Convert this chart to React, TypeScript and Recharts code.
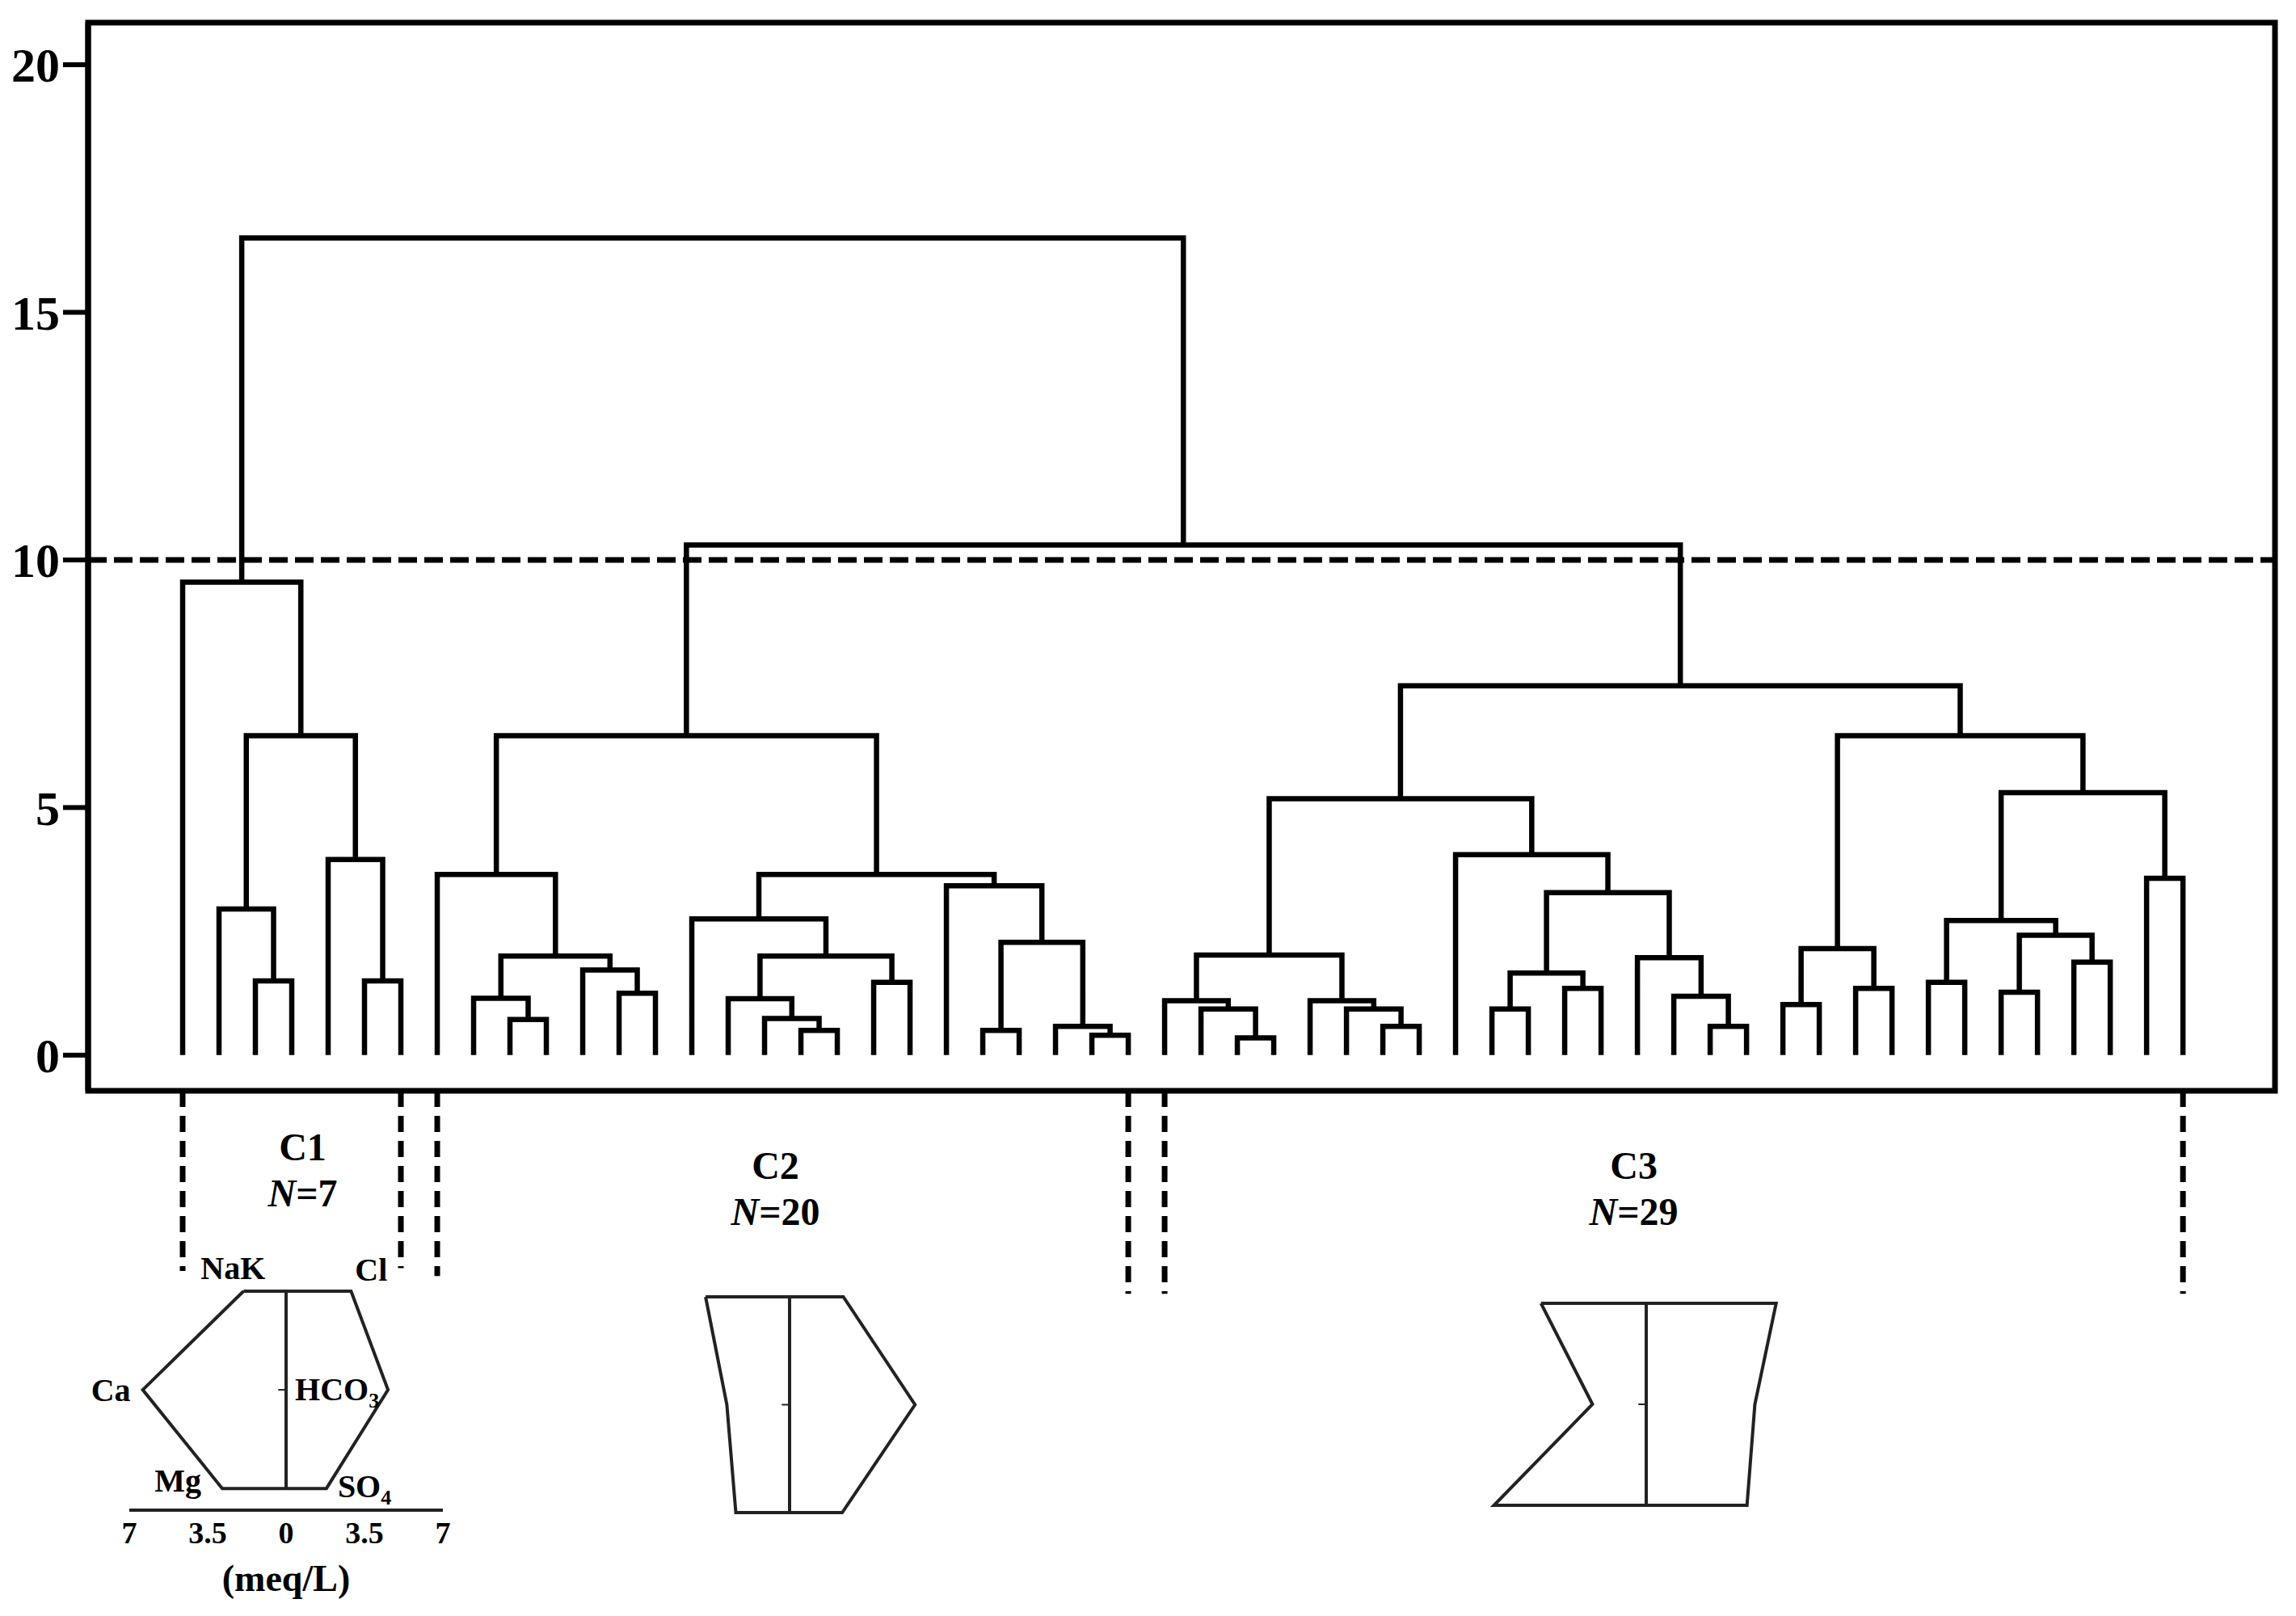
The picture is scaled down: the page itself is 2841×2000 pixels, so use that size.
import React from "react";
import { LineChart, Line, XAxis, YAxis, ReferenceLine, ReferenceArea, ReferenceDot, Label } from "recharts";

const FONT = "'Liberation Serif', 'Times New Roman', serif";

// samples are placed along x in dendrogram order, sample i at x = i
const leafCount = 56;

// agglomeration table: ids below 56 are samples, id 56 + k is the group made by merge k
const mergeLeft = [2, 1, 5, 4, 57, 0, 9, 8, 12, 11, 63, 7, 17, 16, 15, 19, 70, 14, 22, 25, 24, 74, 21, 73, 67, 29, 28, 27, 33, 32, 31, 83, 36, 38, 88, 42, 41, 40, 90, 35, 87, 44, 46, 97, 48, 50, 52, 101, 100, 54, 104, 99, 96, 80, 61];
const mergeRight = [3, 56, 6, 58, 59, 60, 10, 62, 13, 64, 65, 66, 18, 68, 69, 20, 71, 72, 23, 26, 75, 76, 77, 78, 79, 30, 81, 82, 34, 84, 85, 86, 37, 39, 89, 43, 91, 92, 93, 94, 95, 45, 47, 98, 49, 51, 53, 102, 103, 55, 105, 106, 107, 108, 109];
const mergeHeight = [1.5, 2.95, 1.5, 3.95, 6.45, 9.55, 0.72, 1.15, 1.25, 1.72, 2.0, 3.65, 0.5, 0.74, 1.14, 1.47, 2.0, 2.75, 0.5, 0.4, 0.58, 2.28, 3.42, 3.65, 6.45, 0.35, 0.93, 1.1, 0.58, 0.93, 1.1, 2.02, 0.93, 1.35, 1.66, 0.58, 1.19, 1.97, 3.28, 4.05, 5.18, 1.02, 1.35, 2.15, 1.47, 1.27, 1.88, 2.42, 2.72, 3.57, 5.3, 6.45, 7.46, 10.3, 16.5];

const yTicks = [0, 5, 10, 15, 20];
const cutLevel = 10;

const clusterNames = ["C1", "C2", "C3"];
const clusterSizes = [7, 20, 29];
const clusterFirst = [0, 7, 27];
const clusterLast = [6, 26, 55];

// Stiff diagrams, meq/L
const stiffIons = ["NaK", "Ca", "Mg", "SO4", "HCO3", "Cl"];
const ionSide = [-1, -1, -1, 1, 1, 1];
const ionLevel = [2, 1, 0, 0, 1, 2];
const stiffC1 = [1.9, 6.4, 2.85, 1.8, 4.55, 2.9];
const stiffC2 = [3.75, 2.8, 2.4, 2.35, 5.6, 2.4];
const stiffC3 = [4.7, 2.4, 6.8, 4.5, 4.85, 5.8];
const meqTicks = [-7, -3.5, 0, 3.5, 7];

// layout
const X_DOMAIN: [number, number] = [-2.6, 57.53];
const Y_DOMAIN: [number, number] = [-0.72, 20.85];
const markEnd = [-4.36, -4.3, -4.46, -4.82, -4.82, -4.82];
const clusterLabelX = [3.3, 16.3, 39.9];
const clusterLabelY = [-2.12, -2.5, -2.5];

const ionLabelStyle = [
  { dx: -13, dy: -15, anchor: "middle" },
  { dx: -15, dy: 14, anchor: "end" },
  { dx: -55, dy: 4, anchor: "middle" },
  { dx: 14, dy: 11, anchor: "start" },
  { dx: -115, dy: 13, anchor: "start" },
  { dx: 25, dy: -13, anchor: "middle" },
];

function buildLinks() {
  const pos: number[] = [];
  const lev: number[] = [];
  for (let i = 0; i < leafCount; i++) {
    pos.push(i);
    lev.push(0);
  }
  const rows: { x: number; h: number | null }[] = [];
  mergeLeft.forEach((a, k) => {
    const b = mergeRight[k];
    const h = mergeHeight[k];
    rows.push(
      { x: pos[a], h: lev[a] },
      { x: pos[a], h },
      { x: pos[b], h },
      { x: pos[b], h: lev[b] },
      { x: pos[b], h: null }
    );
    pos.push((pos[a] + pos[b]) / 2);
    lev.push(h);
  });
  return rows;
}

const linkRows = buildLinks();

const renderIonLabel = (p: any) => {
  const st = ionLabelStyle[p.index];
  if (!st) return <g key={`ion-${p.index}`} />;
  const name = stiffIons[p.index];
  const base = name.replace(/\d+$/, "");
  const sub = name.slice(base.length);
  return (
    <text key={`ion-${p.index}`} x={p.cx + st.dx} y={p.cy + st.dy} textAnchor={st.anchor as any}
      fontFamily={FONT} fontWeight={700} fontSize={40} fill="#000">
      {base}
      {sub && <tspan dy={9} fontSize={26}>{sub}</tspan>}
    </text>
  );
};

const clusterLabel = (i: number) => (p: any) => {
  const vb = p.viewBox || {};
  return (
    <text x={vb.x} y={vb.y} textAnchor="middle" fontFamily={FONT} fontWeight={700} fontSize={48} fill="#000">
      <tspan x={vb.x}>{clusterNames[i]}</tspan>
      <tspan x={vb.x} dy={57}>
        <tspan fontStyle="italic">N</tspan>={clusterSizes[i]}
      </tspan>
    </text>
  );
};

type Box = { left: number; top: number; width: number; height: number; margin: any };

function StiffDiagram({ values, box, axis }: { values: number[]; box: Box; axis?: boolean }) {
  const rows = stiffIons.map((_, i) => ({ m: ionSide[i] * values[i], lvl: ionLevel[i] }));
  rows.push({ ...rows[0] });
  return (
    <div style={{ position: "absolute", left: box.left, top: box.top }}>
      <LineChart width={box.width} height={box.height} data={rows} margin={box.margin}>
        <XAxis type="number" dataKey="m" domain={[-7, 7]} ticks={meqTicks} interval={0} hide={!axis}
          height={110} tickLine={false} tickSize={0} tickMargin={14}
          axisLine={{ stroke: "#222", strokeWidth: 4 }}
          tickFormatter={(v: number) => String(Math.abs(v))}
          tick={{ fill: "#000", fontSize: 38, fontWeight: 700, fontFamily: FONT }}>
          {axis && (
            <Label value="(meq/L)" position="insideBottom" offset={10} fill="#000" fontSize={46} fontWeight={700} fontFamily={FONT} />
          )}
        </XAxis>
        <YAxis type="number" domain={axis ? [-0.22, 2] : [0, 2]} hide />
        <ReferenceLine segment={[{ x: 0, y: 0 }, { x: 0, y: 2 }]} stroke="#222" strokeWidth={4} />
        <ReferenceLine segment={[{ x: -0.35, y: 1 }, { x: 0, y: 1 }]} stroke="#222" strokeWidth={2} />
        <Line type="linear" dataKey="lvl" stroke="#222" strokeWidth={4} strokeLinejoin="miter"
          dot={axis ? renderIonLabel : false} activeDot={false} isAnimationActive={false} />
      </LineChart>
    </div>
  );
}

export default function App() {
  const markXs = clusterFirst.flatMap((f, i) => [f, clusterLast[i]]);
  return (
    <div style={{ position: "absolute", left: 0, top: 0, width: 2841, height: 2000, background: "#fff" }}>
      <div style={{ position: "absolute", left: 0, top: 0 }}>
        <LineChart width={2841} height={2000} data={linkRows} margin={{ top: 28, right: 26, bottom: 650, left: 0 }}>
          <XAxis type="number" dataKey="x" domain={X_DOMAIN} hide allowDataOverflow />
          <YAxis type="number" domain={Y_DOMAIN} ticks={yTicks} interval={0} allowDataOverflow width={109}
            tickSize={31} tickMargin={4}
            axisLine={{ stroke: "#000", strokeWidth: 7 }}
            tickLine={{ stroke: "#000", strokeWidth: 6 }}
            tick={{ fill: "#000", fontSize: 60, fontWeight: 700, fontFamily: FONT }} />
          <ReferenceArea x1={X_DOMAIN[0]} x2={X_DOMAIN[1]} y1={Y_DOMAIN[0]} y2={Y_DOMAIN[1]}
            fill="none" fillOpacity={0} stroke="#000" strokeWidth={7} ifOverflow="visible" />
          <ReferenceLine y={cutLevel} stroke="#000" strokeWidth={7} strokeDasharray="23 9" />
          <Line type="linear" dataKey="h" stroke="#000" strokeWidth={6.5} strokeLinejoin="miter"
            dot={false} activeDot={false} connectNulls={false} isAnimationActive={false} />
          {markXs.map((x, j) => (
            <ReferenceLine key={`mark-${j}`} segment={[{ x, y: Y_DOMAIN[0] }, { x, y: markEnd[j] }]}
              stroke="#000" strokeWidth={7} strokeDasharray="20 11" ifOverflow="visible" />
          ))}
          {clusterNames.map((_, i) => (
            <ReferenceDot key={`lab-${i}`} x={clusterLabelX[i]} y={clusterLabelY[i]} r={0}
              fill="none" stroke="none" ifOverflow="visible" label={clusterLabel(i)} />
          ))}
        </LineChart>
      </div>
      <StiffDiagram values={stiffC1} axis
        box={{ left: 80, top: 1528, width: 518, height: 451, margin: { top: 70, right: 50, bottom: 0, left: 80 } }} />
      <StiffDiagram values={stiffC2}
        box={{ left: 773, top: 1595, width: 408, height: 287, margin: { top: 10, right: 10, bottom: 10, left: 10 } }} />
      <StiffDiagram values={stiffC3}
        box={{ left: 1833, top: 1603, width: 408, height: 270, margin: { top: 10, right: 10, bottom: 10, left: 10 } }} />
    </div>
  );
}
